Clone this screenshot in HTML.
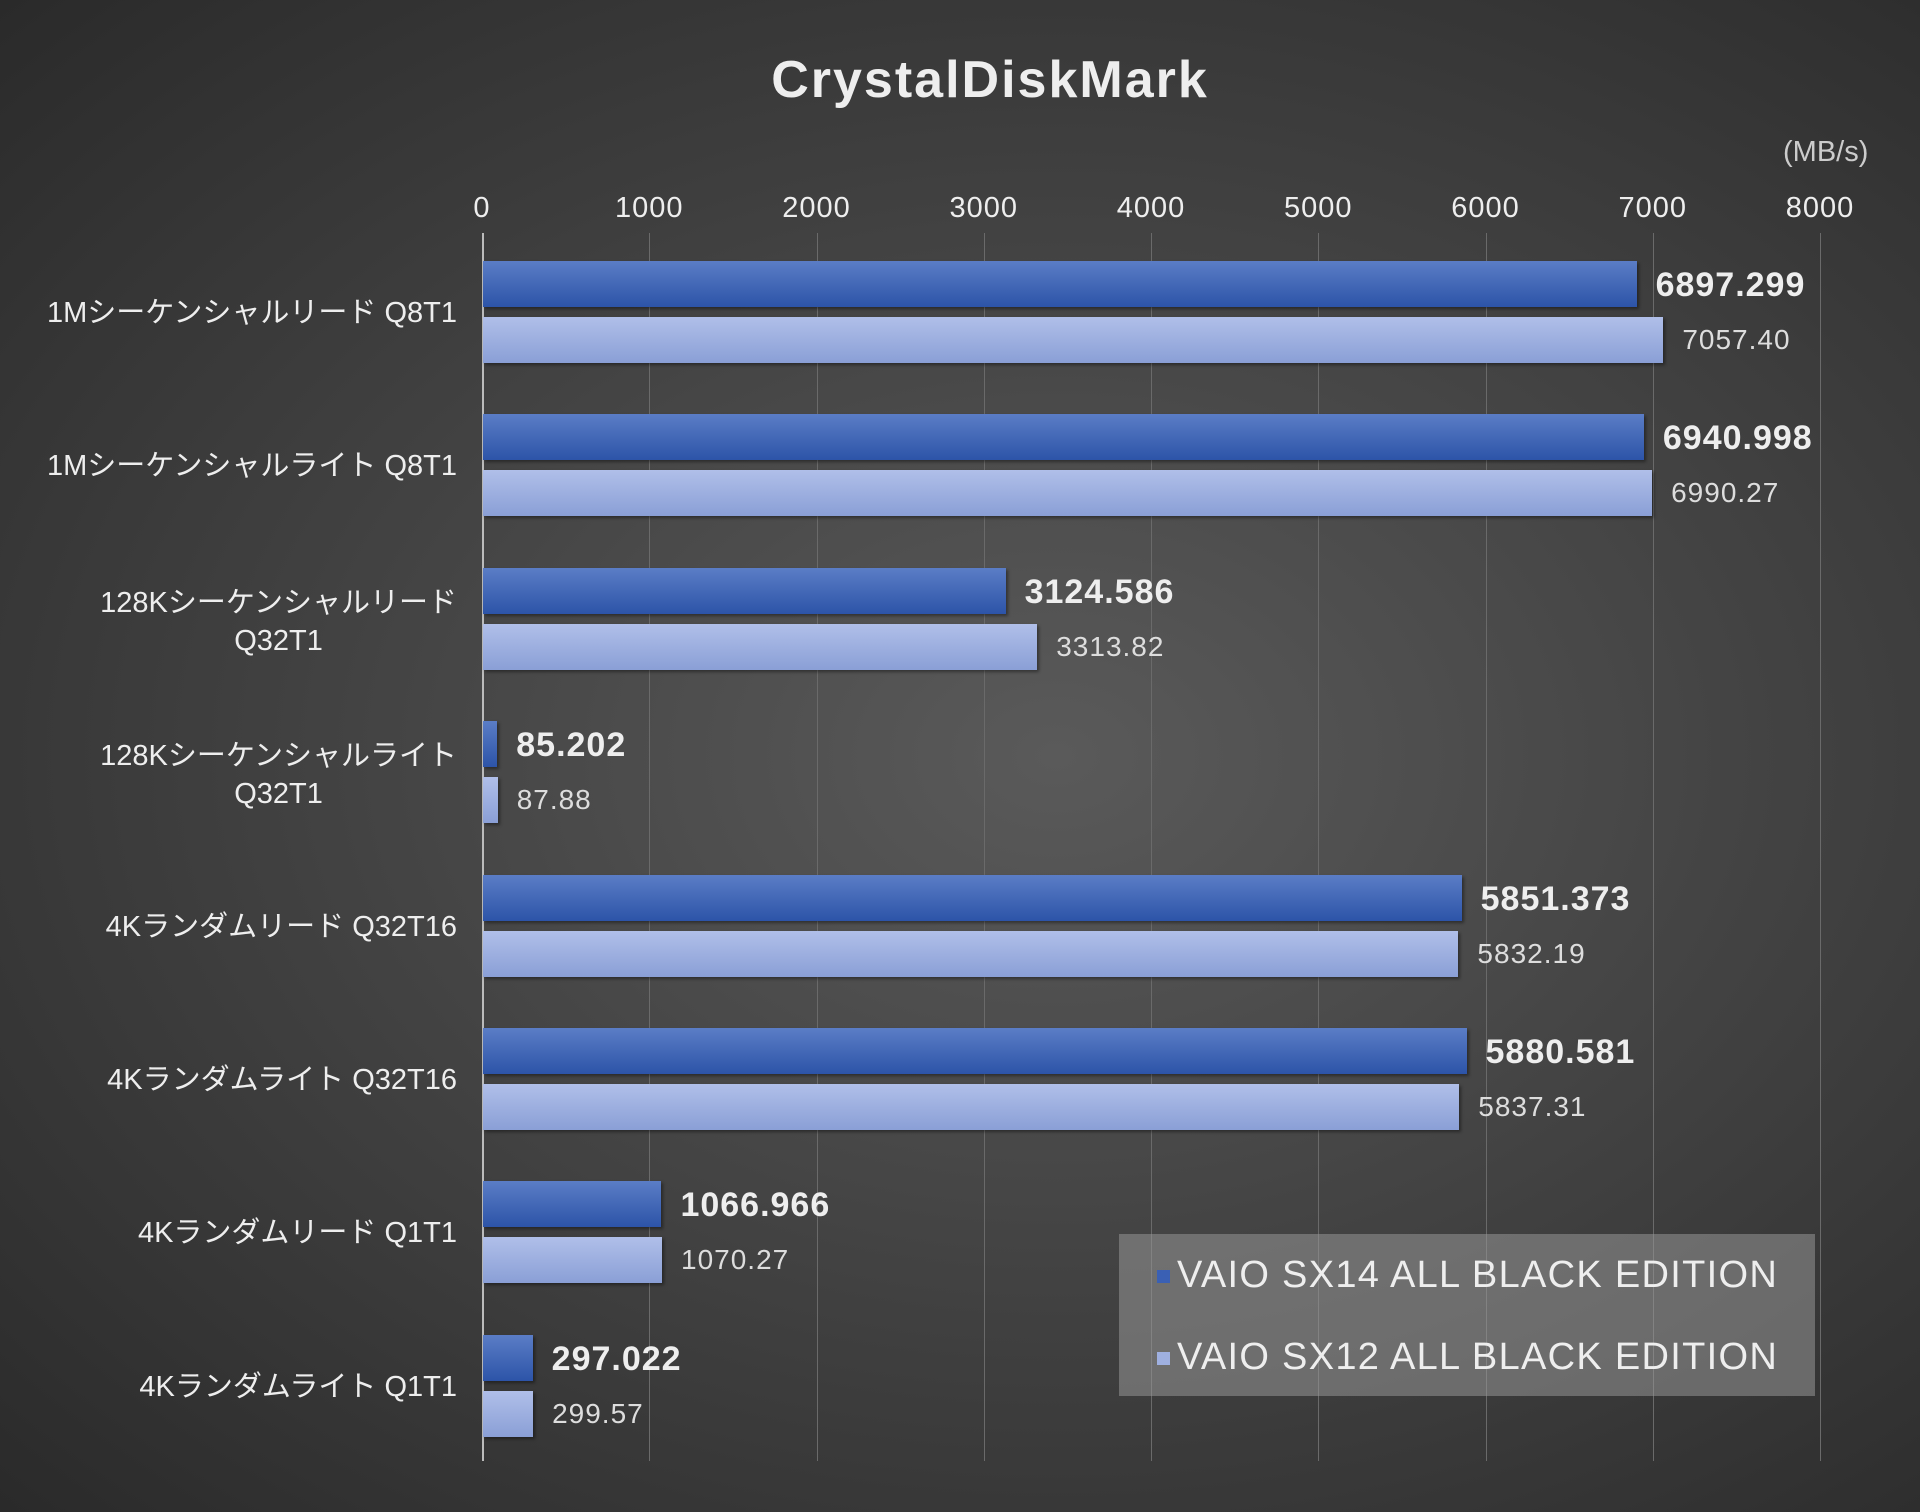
<!DOCTYPE html>
<html><head><meta charset="utf-8"><style>
body{margin:0;width:1920px;height:1512px;overflow:hidden;font-family:"Liberation Sans","Noto Sans CJK JP",sans-serif;}
#bg{position:absolute;left:0;top:0;width:1920px;height:1512px;background:radial-gradient(ellipse at 55% 50%,#5a5a5a 0%,#444 45%,#2a2a2a 100%);}
.a{position:absolute;color:#eee;white-space:nowrap;}
.g{position:absolute;top:233px;height:1228px;width:1px;background:#6a6a6a;}
.d{position:absolute;height:46px;background:linear-gradient(#5b7dc6,#2d54a8);box-shadow:2px 2px 3px rgba(0,0,0,.4);}
.l{position:absolute;height:46px;background:linear-gradient(#b0bfe9,#8a9fd6);box-shadow:2px 2px 3px rgba(0,0,0,.4);}
.cat{position:absolute;right:1463px;color:#eee;font-size:29px;text-align:right;line-height:38px;white-space:nowrap;}
.vd{position:absolute;color:#eee;font-size:34px;font-weight:bold;letter-spacing:1px;}
.vl{position:absolute;color:#ddd;font-size:28px;letter-spacing:1px;}
</style></head><body><div id="bg"></div>
<div class="a" style="left:0;width:1980px;text-align:center;top:50px;font-size:52px;font-weight:bold;letter-spacing:2px">CrystalDiskMark</div>
<div class="a" style="left:1783px;top:136px;font-size:29px;color:#ccc">(MB/s)</div>
<div id="c"></div>
<div style="position:absolute;left:1119px;top:1234px;width:696px;height:162px;background:rgba(150,150,150,.55)"></div>
<div style="position:absolute;left:1157px;top:1270px;width:13px;height:13px;background:#3a60b4"></div>
<div class="a" style="left:1177px;top:1254px;font-size:38px;letter-spacing:1.3px">VAIO SX14 ALL BLACK EDITION</div>
<div style="position:absolute;left:1157px;top:1352px;width:13px;height:13px;background:#9fb0e0"></div>
<div class="a" style="left:1177px;top:1336px;font-size:38px;letter-spacing:1.3px">VAIO SX12 ALL BLACK EDITION</div>
<script>
var x0=482,s=0.16725,h='';
for(var i=0;i<=8;i++){var x=x0+i*1000*s;h+='<div class="g" style="left:'+x+'px;'+(i==0?'background:#bbb;width:2px;':'')+'"></div><div class="a" style="left:'+(x-60)+'px;width:120px;text-align:center;top:192px;font-size:29px;letter-spacing:1px">'+i*1000+'</div>';}
var D=[["1Mシーケンシャルリード Q8T1",6897.299,"6897.299",7057.40,"7057.40"],["1Mシーケンシャルライト Q8T1",6940.998,"6940.998",6990.27,"6990.27"],["128Kシーケンシャルリード<br>Q32T1",3124.586,"3124.586",3313.82,"3313.82"],["128Kシーケンシャルライト<br>Q32T1",85.202,"85.202",87.88,"87.88"],["4Kランダムリード Q32T16",5851.373,"5851.373",5832.19,"5832.19"],["4Kランダムライト Q32T16",5880.581,"5880.581",5837.31,"5837.31"],["4Kランダムリード Q1T1",1066.966,"1066.966",1070.27,"1070.27"],["4Kランダムライト Q1T1",297.022,"297.022",299.57,"299.57"]];
D.forEach(function(d,k){var t=261+k*153.4,w1=d[1]*s,w2=d[3]*s,two=d[0].indexOf('<br>')>0;
h+='<div class="d" style="left:'+(x0+1)+'px;top:'+t+'px;width:'+w1+'px"></div>';
h+='<div class="l" style="left:'+(x0+1)+'px;top:'+(t+56)+'px;width:'+w2+'px"></div>';
h+='<div class="vd" style="left:'+(x0+w1+20)+'px;top:'+(t+5)+'px">'+d[2]+'</div>';
h+='<div class="vl" style="left:'+(x0+w2+20)+'px;top:'+(t+63)+'px">'+d[4]+'</div>';
h+='<div class="cat" style="top:'+(t+(two?16:33))+'px;'+(two?'text-align:center;':'')+'">'+d[0]+'</div>';});
document.getElementById('c').innerHTML=h;
</script></body></html>
